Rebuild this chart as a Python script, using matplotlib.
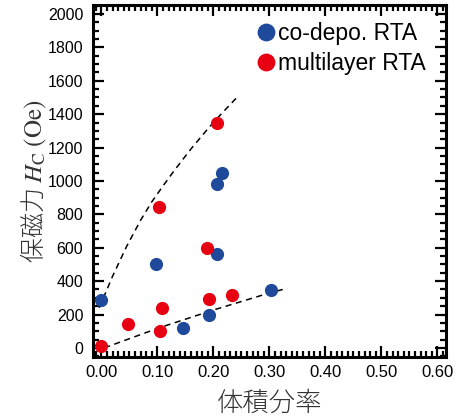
import matplotlib
matplotlib.use("Agg")
import matplotlib.pyplot as plt
from matplotlib.ticker import MultipleLocator

# co-depo. RTA
blue_x = [0.000, 0.098, 0.146, 0.192, 0.207, 0.207, 0.216, 0.303]
blue_y = [285, 503, 118, 198, 565, 980, 1045, 345]

# multilayer RTA
red_x = [0.000, 0.048, 0.104, 0.109, 0.103, 0.189, 0.193, 0.234, 0.206]
red_y = [10, 145, 100, 240, 845, 600, 295, 315, 1345]

# guide lines
up_x = [-0.004, 0.020, 0.045, 0.070, 0.090, 0.110, 0.130, 0.160, 0.190, 0.215, 0.242]
up_y = [240, 430, 608, 765, 875, 970, 1062, 1192, 1312, 1405, 1500]
lo_x = [0.005, 0.101, 0.200, 0.302, 0.332]
lo_y = [0, 118, 227, 331, 357]

blue = "#1f4a9c"
red = "#e60012"

plt.rcParams["font.family"] = ["Liberation Sans", "DejaVu Sans"]
plt.rcParams["mathtext.fontset"] = "stix"

fig = plt.figure(figsize=(4.71, 4.16), dpi=100)
ax = fig.add_axes([0.1975, 0.142, 0.75, 0.846])

ax.plot(up_x, up_y, ls=(0, (4, 3)), color="black", lw=1.1, zorder=2)
ax.plot(lo_x, lo_y, ls=(0, (4, 3)), color="black", lw=1.1, zorder=2)

ax.plot(blue_x, blue_y, "o", ms=9.5, color=blue, mec="none", label="co-depo. RTA", zorder=3)
ax.plot(red_x, red_y, "o", ms=9.5, color=red, mec="none", label="multilayer RTA", zorder=3)

ax.set_xlim(-0.015, 0.616)
ax.set_ylim(-54, 2054)
ax.xaxis.set_major_locator(MultipleLocator(0.1))
ax.xaxis.set_minor_locator(MultipleLocator(0.01))
ax.yaxis.set_major_locator(MultipleLocator(200))
ax.yaxis.set_minor_locator(MultipleLocator(50))
ax.xaxis.set_major_formatter(plt.FormatStrFormatter("%.2f"))

ax.tick_params(which="both", direction="in", top=True, right=True, width=1.6)
ax.tick_params(which="major", length=8)
ax.tick_params(which="minor", length=4.5)
ax.tick_params(axis="x", which="major", labelsize=12, pad=6)
ax.tick_params(axis="y", which="major", labelsize=11.5, pad=7)
for s in ax.spines.values():
    s.set_linewidth(2.2)

ax.set_xlabel("体積分率", fontsize=19, color="#333333", labelpad=6,
              family=["Noto Sans CJK JP", "DejaVu Sans"], fontweight="light")
ax.set_ylabel("保磁力 $H_\\mathrm{C}$ $\\mathrm{(Oe)}$", fontsize=18, color="#333333", labelpad=-1,
              family=["Noto Sans CJK JP", "DejaVu Sans"], fontweight="light")

ax.legend(loc="upper right", bbox_to_anchor=(0.975, 0.983), frameon=False,
          fontsize=16.5, handletextpad=0.05, borderaxespad=0.2, borderpad=0.3,
          labelspacing=0.3, markerscale=1.35, handlelength=1.0)

fig.savefig("out.png", dpi=100)
